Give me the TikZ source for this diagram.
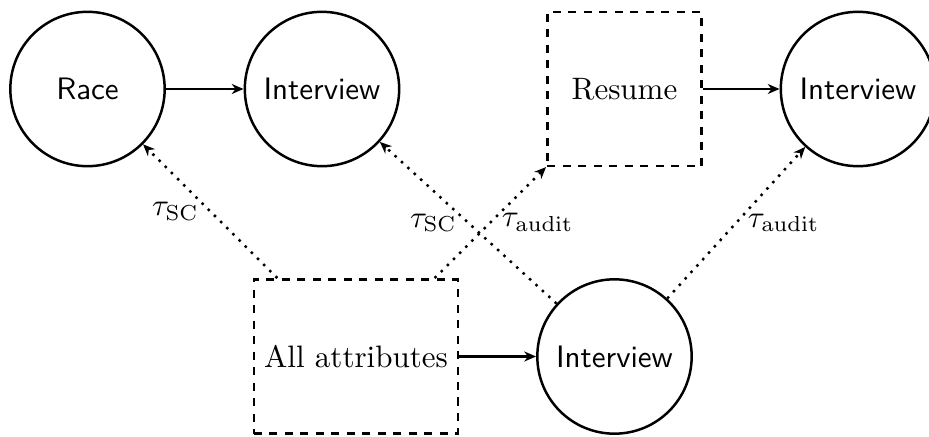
\documentclass[tikz,border=0pt]{standalone}
\usetikzlibrary{arrows.meta}
\begin{document}
\begin{tikzpicture}[x=0.3226pt,y=-0.3226pt,
  tip/.tip={Stealth[length=3.8pt,width=3.2pt,inset=1.2pt]},
  circ/.style={draw,circle,minimum size=49.8pt,inner sep=0pt,font=\sffamily,thick},
  dbox/.style={draw,rectangle,dash pattern=on 2.6pt off 2.4pt,minimum width=49.8pt,minimum height=49.8pt,thick},
  flow/.style={-tip,thick},
  dep/.style={-tip,dotted,thick}]
\useasboundingbox (0,0) rectangle (929,437);
\node[circ] (race) at (87.5,89) {Race};
\node[circ] (int1) at (322,89) {Interview};
\node[dbox] (resume) at (624.5,89) {Resume};
\node[circ] (int2) at (858,89) {Interview};
\node[dbox] (all) at (356,356.5) {All attributes};
\node[circ] (int3) at (614.5,356.5) {Interview};
\draw[flow] (race) -- (int1);
\draw[flow] (resume) -- (int2);
\draw[flow] (all) -- (int3);
\draw[dep] (all) -- node[left] {$\tau_{\mathrm{SC}}$} (race);
\draw[dep] (int3) -- node[left] {$\tau_{\mathrm{SC}}$} (int1);
\draw[dep] (all) -- node[right] {$\tau_{\mathrm{audit}}$} (resume);
\draw[dep] (int3) -- node[right] {$\tau_{\mathrm{audit}}$} (int2);
\end{tikzpicture}
\end{document}
